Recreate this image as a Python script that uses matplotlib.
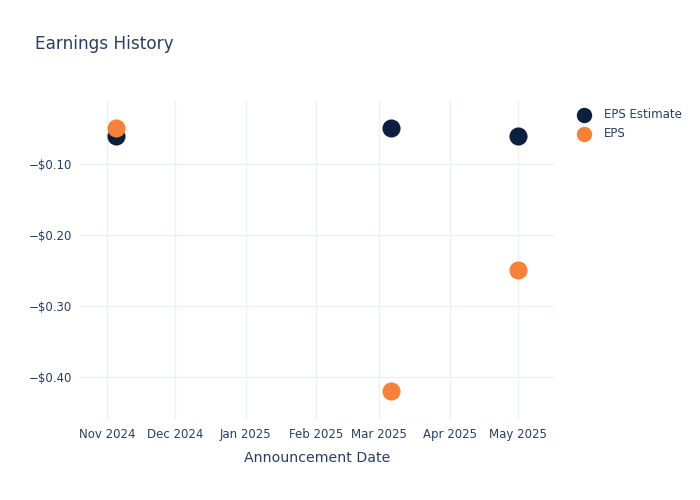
import numpy as np
import matplotlib.pyplot as plt
import matplotlib.dates as mdates

dates = np.array(['2024-11-05', '2025-03-06', '2025-05-01'], dtype='datetime64[D]')
eps_estimate = [-0.06, -0.05, -0.06]
eps_actual = [-0.05, -0.42, -0.25]
y_ticks = [-0.10, -0.20, -0.30, -0.40]

text_color = '#2a3f5f'
grid_color = '#ebf0f8'

fig = plt.figure(figsize=(7, 5), dpi=100)
ax = fig.add_axes([80 / 700, 0.16, (554 - 80) / 700, 0.64])

x = dates.astype('datetime64[ms]').astype(object)
ax.scatter(x, eps_estimate, s=170, color='#0d1f3f', label='EPS Estimate', zorder=3, linewidths=0)
ax.scatter(x, eps_actual, s=170, color='#f5813a', label='EPS', zorder=4, linewidths=0)

ax.set_xlim(np.datetime64('2024-10-20').astype(object), np.datetime64('2025-05-17').astype(object))
ax.set_ylim(-0.4606, -0.0099)
ax.xaxis.set_major_locator(mdates.MonthLocator())
ax.xaxis.set_major_formatter(mdates.DateFormatter('%b %Y'))
ax.set_yticks(y_ticks)
ax.set_yticklabels(['\u2212$%.2f' % abs(v) for v in y_ticks])

ax.grid(True, color=grid_color, linewidth=1)
ax.set_axisbelow(True)
for s in ax.spines.values():
    s.set_visible(False)
ax.tick_params(length=0, labelsize=8.5, colors=text_color, pad=6)

ax.set_xlabel('Announcement Date', fontsize=10.2, color=text_color, labelpad=7)
fig.text(35 / 700, 1 - 44 / 500, 'Earnings History', fontsize=12.2, color=text_color, va='center')

ax.legend(loc='upper left', bbox_to_anchor=(1.02, 1.0), frameon=False, fontsize=8.5,
          labelcolor=text_color, handletextpad=0.7, borderaxespad=0.3, labelspacing=0.5,
          markerscale=0.85)

fig.savefig('out.png', dpi=100)
